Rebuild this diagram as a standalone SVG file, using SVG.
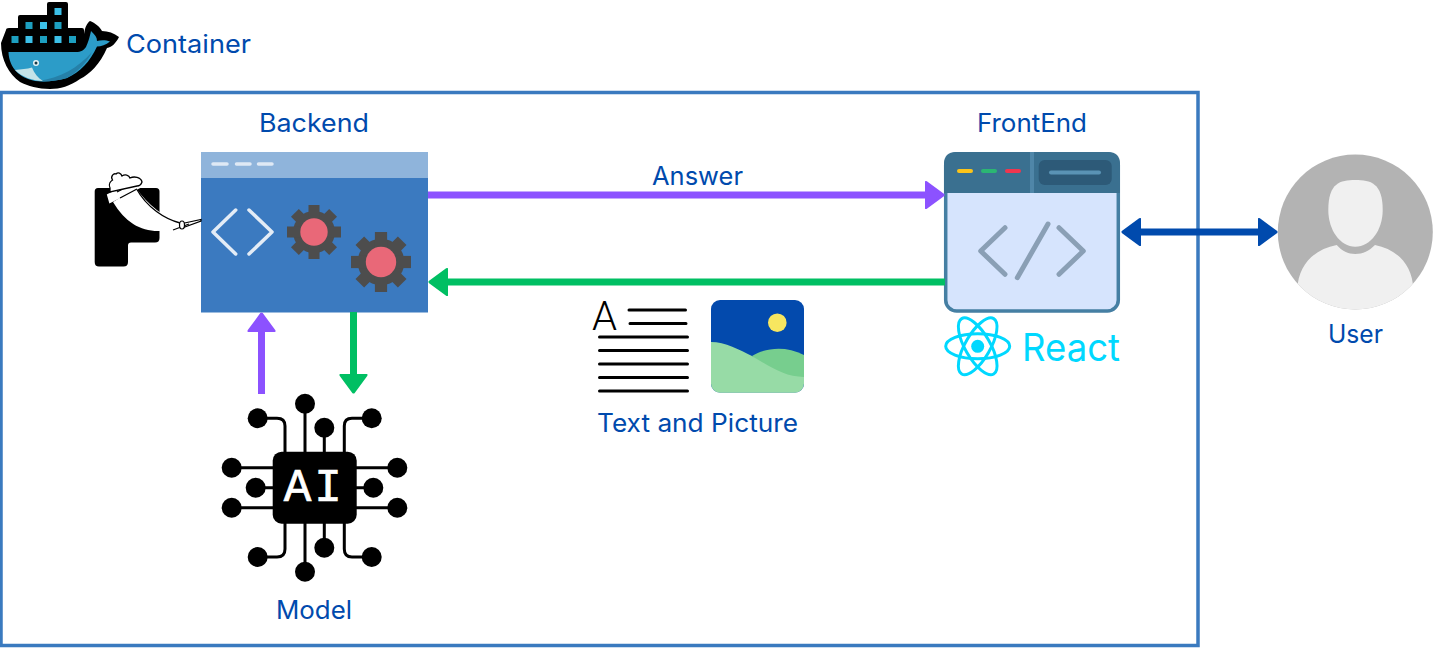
<svg xmlns="http://www.w3.org/2000/svg" width="1434" height="649" viewBox="0 0 1434 649">
<style>
.lbl{font-family:"Inter","Open Sans","Liberation Sans",sans-serif;font-size:25px;fill:#004aad}
.conn{fill:none;stroke-width:7}
.wire{fill:none;stroke:#000;stroke-width:3}
.doc{stroke:#000;stroke-width:3;stroke-linecap:round}
.box1{fill:#3cc0e8}.box2{fill:#1d9fc0}
.ui{fill:none;stroke-linecap:round;stroke-linejoin:round}
</style>
<defs>
<marker id="hp" markerUnits="userSpaceOnUse" markerWidth="24" markerHeight="34" refX="0" refY="0" orient="auto-start-reverse" viewBox="0 -17 24 34"><path d="M1-12.500L18 0L1 12.500Z" fill="#8c52ff" stroke="#8c52ff" stroke-width="3" stroke-linejoin="round"/></marker>
<marker id="hg" markerUnits="userSpaceOnUse" markerWidth="24" markerHeight="34" refX="0" refY="0" orient="auto-start-reverse" viewBox="0 -17 24 34"><path d="M1-12.500L18 0L1 12.500Z" fill="#00bf63" stroke="#00bf63" stroke-width="3" stroke-linejoin="round"/></marker>
<marker id="hb" markerUnits="userSpaceOnUse" markerWidth="24" markerHeight="34" refX="0" refY="0" orient="auto-start-reverse" viewBox="0 -17 24 34"><path d="M1-12.500L18 0L1 12.500Z" fill="#004aad" stroke="#004aad" stroke-width="3" stroke-linejoin="round"/></marker>
<g id="gear">
<circle r="21" fill="#4d4d4d"/>
<g fill="#4d4d4d">
<rect x="-5.500" y="-27" width="11" height="54"/>
<rect x="-5.500" y="-27" width="11" height="54" transform="rotate(45)"/>
<rect x="-5.500" y="-27" width="11" height="54" transform="rotate(90)"/>
<rect x="-5.500" y="-27" width="11" height="54" transform="rotate(135)"/>
</g>
<circle r="13.700" fill="#e96878"/>
</g>
<clipPath id="userClip"><circle cx="1355.300" cy="232" r="77.500"/></clipPath>
<clipPath id="picClip"><rect x="711" y="300" width="93" height="92.700" rx="9"/></clipPath>
</defs>
<rect width="1434" height="649" fill="#fff"/>

<g id="container-frame"><rect x="1" y="92.500" width="1197" height="553" fill="none" stroke="#3a7abf" stroke-width="3.500"/></g>

<g id="docker">
<path d="M1 43L6 30Q6 28 9 28H18V17Q18 15 20 15H47V4Q47 2 49 2H66Q68 2 68 4V28H82Q84 28 84 30V34C85 27 87 23 90 21C95 23 100 27 102 31C108 31 114 33 119 37C116 43 112 47 107 48C100 64 90 74 80 79C70 86 60 89 50 89C38 89 28 86 20 82C9 74 1 60 1 43Z" fill="#000"/>
<g>
<rect class="box1" x="54.500" y="8" width="7" height="7"/>
<rect class="box2" x="25.500" y="22" width="7" height="7"/>
<rect class="box1" x="40" y="22" width="7" height="7"/>
<rect class="box2" x="54.500" y="22" width="7" height="7"/>
<rect class="box2" x="11.500" y="36" width="7" height="7"/>
<rect class="box1" x="25.500" y="36" width="7" height="7"/>
<rect class="box2" x="40" y="36" width="7" height="7"/>
<rect class="box1" x="54.500" y="36" width="7" height="7"/>
<rect class="box2" x="69" y="36" width="7" height="7"/>
</g>
<path d="M8.500 52H76C81 52 84 50 86 47C88 43 90 36 91 31C95 35 97 37 97 41C101 40 106 40 110 41.500C106 45 101 46.500 97 46.500C90 62 80 72 67 78C57 81 45 82 35 81C20 78 9 68 8.500 52Z" fill="#2c9cc8"/>
<path d="M92 52C87 62 79 71 67 78C57 81 45 82 38 81C60 78 78 68 92 52Z" fill="#2580a8"/>
<path d="M15 70C21 69 27 69 32 67.500C34 73 38 78 43 81C33 81 22 77 15 70Z" fill="#c4e3e8"/>
<circle cx="36" cy="63" r="3" fill="#e8f4f6"/><circle cx="36" cy="63" r="1.500" fill="#143a48"/>
</g>
<text class="lbl" x="126" y="53" textLength="125" lengthAdjust="spacingAndGlyphs">Container</text>

<g id="backend">
<rect x="201" y="152" width="227" height="160.500" fill="#3b7ac0"/>
<rect x="201" y="152" width="227" height="26" fill="#8fb4db"/>
<path class="ui" d="M213 164H227M236.500 164H250M258.500 164H272" stroke="#dfe9f5" stroke-width="3.500"/>
<path class="ui" d="M235.700 210L213 232L235.700 254M249 210L272 232L249 254" stroke="#e3ecf6" stroke-width="3.500"/>
<use href="#gear" x="314" y="232"/>
<use href="#gear" transform="translate(381 262) scale(1.110)"/>
<text class="lbl" x="259" y="132" textLength="110" lengthAdjust="spacingAndGlyphs">Backend</text>
</g>

<g id="flask">
<path d="M98 188H156Q159.500 188 159.500 191.500V238Q159.500 242.500 155 242.500H131Q128 242.500 128 245.500V262Q128 266.500 123.500 266.500H99Q94.700 266.500 94.700 262V191.500Q94.700 188 98 188Z" fill="#000"/>
<path d="M113 202C125 222 140 231 158 231L173 231L181 226L180 223C165 218 148 205 136 188Z" fill="#fff"/>
<path d="M136 188C147 208 165 219 180 223" fill="none" stroke="#000" stroke-width="1.300"/>
<path d="M108 195L140 180L142 186L110 202Z" fill="#fff" stroke="#fff" stroke-width="2"/>
<path d="M117 192L133 183.500M120 198L137 189" fill="none" stroke="#000" stroke-width="1.300"/>
<path d="M110 188C108 184 111 181 112.500 180C110 176 114 173 116 174C118 172 121 173 122 176C125 174 129 175 130 178C134 176 141 177 142 182C141 185 139 186 137 186L110 192Z" fill="#fff" stroke="#000" stroke-width="1.300"/>
<path d="M180 224L201 219.500L201 221L182 228Z" fill="#fff" stroke="#000" stroke-width="1.200"/>
<path d="M173 230L189 224" fill="none" stroke="#000" stroke-width="1.200"/>
<ellipse cx="182" cy="225" rx="2.500" ry="4" fill="#fff" stroke="#000" stroke-width="1.200"/>
</g>

<g id="frontend">
<rect x="945.700" y="153.700" width="172.600" height="157.300" rx="11" fill="#d6e4fd" stroke="#457fa3" stroke-width="3.500"/>
<path d="M944 193V164Q944 152 956 152H1108Q1120 152 1120 164V193Z" fill="#3a7090"/>
<rect x="1030" y="152" width="4" height="41" fill="#4f86a8"/>
<rect x="1038.700" y="160" width="73" height="25" rx="6" fill="#2d5a78"/>
<path class="ui" d="M1051 172.500H1099" stroke="#5a93b5" stroke-width="4"/>
<path class="ui" d="M959 171H971" stroke="#fcc419" stroke-width="4"/>
<path class="ui" d="M983 171H995" stroke="#2bb673" stroke-width="4"/>
<path class="ui" d="M1007 171H1019" stroke="#f0364f" stroke-width="4"/>
<path class="ui" d="M1005 227.700L980.700 251L1005 274.300M1048 224L1017.300 277.700M1059 227.700L1083.300 251L1059 274.300" stroke="#8a9fb5" stroke-width="5"/>
<text class="lbl" x="977" y="132" textLength="110" lengthAdjust="spacingAndGlyphs">FrontEnd</text>
</g>

<g id="react">
<g fill="none" stroke="#00d8ff" stroke-width="3">
<ellipse cx="977.700" cy="346.300" rx="32" ry="12.500"/>
<ellipse cx="977.700" cy="346.300" rx="32" ry="12.500" transform="rotate(60 977.700 346.300)"/>
<ellipse cx="977.700" cy="346.300" rx="32" ry="12.500" transform="rotate(120 977.700 346.300)"/>
</g>
<circle cx="977.700" cy="346.300" r="6.500" fill="#00d8ff"/>
<text x="1022" y="361" font-family="Inter,'Open Sans',sans-serif" font-size="38" font-weight="400" fill="#00d8ff" textLength="98" lengthAdjust="spacingAndGlyphs">React</text>
</g>

<g id="user">
<circle cx="1355.300" cy="232" r="77.500" fill="#b3b3b3"/>
<path d="M1355.300 180C1340 180 1328.300 183 1328.300 210C1328.300 230 1340 246.700 1355.300 246.700C1370.700 246.700 1382.700 230 1382.700 210C1382.700 183 1370.700 180 1355.300 180Z" fill="#f0f0f0"/>
<path clip-path="url(#userClip)" d="M1336.700 245C1342 251 1348 254 1355.300 254C1363 254 1369 251 1375 245C1396 249 1413 264 1413.300 290V320H1297.300V290C1298 264 1315 249 1336.700 245Z" fill="#f0f0f0"/>
<text class="lbl" x="1328" y="343" textLength="55" lengthAdjust="spacingAndGlyphs">User</text>
</g>

<g id="model">
<g class="wire">
<path d="M257.700 418.300H277Q285 418.300 285 426V452"/>
<path d="M371.700 418.300H352Q344.300 418.300 344.300 426V452"/>
<path d="M305 403.700V452M324.300 427.700V452"/>
<path d="M231.700 467.700H273M255.700 487.700H273M231.700 507.700H273"/>
<path d="M397.300 467.700H356M373.300 487.700H356M397.300 507.700H356"/>
<path d="M257.700 557H277Q285 557 285 549V523"/>
<path d="M371.700 557H352Q344.300 557 344.300 549V523"/>
<path d="M305 571.700V523M324.300 547.700V523"/>
</g>
<rect x="272.700" y="451.700" width="84" height="72" rx="9" fill="#000"/>
<g fill="#000">
<circle cx="305" cy="403.700" r="10"/><circle cx="257.700" cy="418.300" r="10"/><circle cx="324.300" cy="427.700" r="10"/><circle cx="371.700" cy="418.300" r="10"/>
<circle cx="231.700" cy="467.700" r="10"/><circle cx="255.700" cy="487.700" r="10"/><circle cx="231.700" cy="507.700" r="10"/>
<circle cx="397.300" cy="467.700" r="10"/><circle cx="373.300" cy="487.700" r="10"/><circle cx="397.300" cy="507.700" r="10"/>
<circle cx="257.700" cy="557" r="10"/><circle cx="324.300" cy="547.700" r="10"/><circle cx="371.700" cy="557" r="10"/><circle cx="305" cy="571.700" r="10"/>
</g>
<text x="297.500 328" y="501" font-family="'Liberation Mono',monospace" font-size="46" fill="#fff" stroke="#fff" stroke-width="0.700" text-anchor="middle">AI</text>
<text class="lbl" x="276" y="619" textLength="76" lengthAdjust="spacingAndGlyphs">Model</text>
</g>

<g id="text-and-picture">
<text x="592" y="330" font-family="Roboto,'Liberation Sans',sans-serif" font-size="40" font-weight="300" fill="#000">A</text>
<path class="doc" d="M629 310H685.500M630 323.500H686M599.500 337H687.500M599.500 350.500H687.500M599.500 364H687.500M599.500 377.500H687.500M599.500 391H687.500" fill="none"/>
<g clip-path="url(#picClip)">
<rect x="711" y="300" width="93" height="92.700" fill="#034aad"/>
<path d="M752 356C765 348 785 345 804 355V380H780Z" fill="#77ce8e"/>
<path d="M711 342C725 342 740 350 752 356C770 367 785 377 804 377V393H711Z" fill="#97dba6"/>
<circle cx="777.300" cy="322.700" r="9.300" fill="#f7e660"/>
</g>
<text class="lbl" x="597" y="432" textLength="201" lengthAdjust="spacingAndGlyphs">Text and Picture</text>
</g>

<g id="connectors">
<path class="conn" d="M428 195H925" stroke="#8c52ff" marker-end="url(#hp)"/>
<path class="conn" d="M945 282H448" stroke="#00bf63" marker-end="url(#hg)"/>
<path class="conn" d="M261.500 394V332" stroke="#8c52ff" marker-end="url(#hp)"/>
<path class="conn" d="M353.500 312V374" stroke="#00bf63" marker-end="url(#hg)"/>
<path class="conn" d="M1141 232H1258" stroke="#004aad" marker-start="url(#hb)" marker-end="url(#hb)"/>
</g>
<text class="lbl" x="652" y="185" textLength="91" lengthAdjust="spacingAndGlyphs">Answer</text>
</svg>
